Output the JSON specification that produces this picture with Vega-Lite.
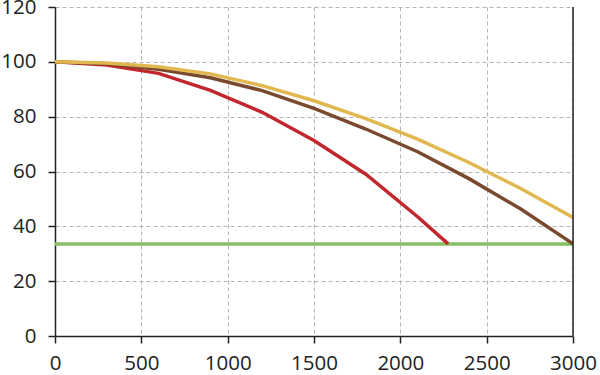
{
  "$schema": "https://vega.github.io/schema/vega-lite/v6.json",
  "width": 518,
  "height": 329,
  "autosize": {"type": "none"},
  "padding": {"left": 55, "top": 7, "right": 27, "bottom": 39},
  "background": "white",
  "config": {
    "view": {"stroke": null},
    "axis": {
      "labelFont": "Open Sans",
      "labelFontSize": 20.5,
      "labelColor": "#222222",
      "domainColor": "#222222",
      "domainWidth": 1.5,
      "tickColor": "#222222",
      "tickWidth": 1.5,
      "tickSize": 7,
      "gridColor": "#b3b3b3",
      "gridDash": [4, 3],
      "gridWidth": 1
    }
  },
  "datasets": {
    "curves": [
      {"series": "limit", "x": 0, "y": 33.6},
      {"series": "limit", "x": 3000, "y": 33.6},
      {"series": "red", "x": 0, "y": 100},
      {"series": "red", "x": 300, "y": 98.8},
      {"series": "red", "x": 600, "y": 95.8},
      {"series": "red", "x": 900, "y": 89.6},
      {"series": "red", "x": 1200, "y": 81.6},
      {"series": "red", "x": 1500, "y": 71.3},
      {"series": "red", "x": 1800, "y": 59.0},
      {"series": "red", "x": 2100, "y": 43.5},
      {"series": "red", "x": 2277, "y": 33.6},
      {"series": "brown", "x": 0, "y": 100},
      {"series": "brown", "x": 300, "y": 99.3},
      {"series": "brown", "x": 600, "y": 97.3},
      {"series": "brown", "x": 900, "y": 94.2},
      {"series": "brown", "x": 1200, "y": 89.5},
      {"series": "brown", "x": 1500, "y": 83.0},
      {"series": "brown", "x": 1800, "y": 75.5},
      {"series": "brown", "x": 2100, "y": 67.2},
      {"series": "brown", "x": 2400, "y": 57.3},
      {"series": "brown", "x": 2700, "y": 46.2},
      {"series": "brown", "x": 3000, "y": 33.6},
      {"series": "gold", "x": 0, "y": 100},
      {"series": "gold", "x": 300, "y": 99.6},
      {"series": "gold", "x": 600, "y": 98.2},
      {"series": "gold", "x": 900, "y": 95.6},
      {"series": "gold", "x": 1200, "y": 91.3},
      {"series": "gold", "x": 1500, "y": 85.8},
      {"series": "gold", "x": 1800, "y": 79.3},
      {"series": "gold", "x": 2100, "y": 71.8},
      {"series": "gold", "x": 2400, "y": 63.2},
      {"series": "gold", "x": 2700, "y": 53.7},
      {"series": "gold", "x": 3000, "y": 43.2}
    ],
    "frame": [{"x": 3000}]
  },
  "layer": [
    {
      "data": {"name": "curves"},
      "mark": {"type": "line", "strokeWidth": 3.5, "strokeCap": "butt", "clip": true},
      "encoding": {
        "x": {
          "field": "x", "type": "quantitative",
          "scale": {"domain": [0, 3000], "nice": false},
          "axis": {"title": null, "format": "d", "values": [0, 500, 1000, 1500, 2000, 2500, 3000], "labelPadding": 10, "labelFlush": false}
        },
        "y": {
          "field": "y", "type": "quantitative",
          "scale": {"domain": [0, 120], "nice": false},
          "axis": {"title": null, "values": [0, 20, 40, 60, 80, 100, 120], "labelPadding": 12, "labelFlush": false}
        },
        "color": {
          "field": "series", "type": "nominal",
          "scale": {"domain": ["limit", "red", "brown", "gold"], "range": ["#86c064", "#c1272d", "#7a4a2e", "#e1b850"]},
          "legend": null
        }
      }
    },
    {
      "data": {"name": "frame"},
      "mark": {"type": "rule", "color": "#222222", "strokeWidth": 1.5},
      "encoding": {
        "x": {"field": "x", "type": "quantitative"}
      }
    }
  ]
}
